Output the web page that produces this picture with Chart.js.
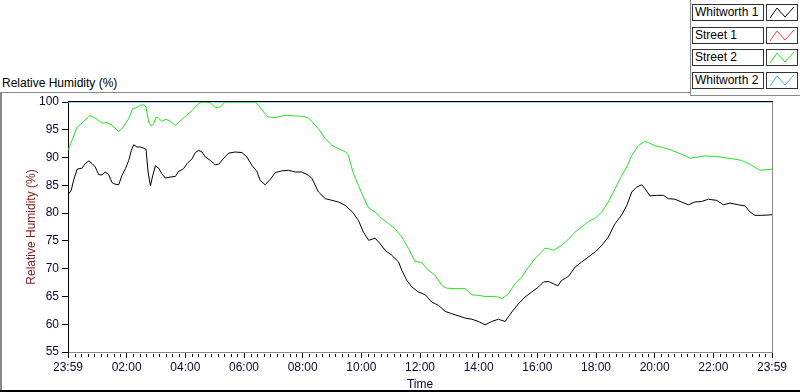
<!DOCTYPE html>
<html>
<head>
<meta charset="utf-8">
<script src="https://cdn.jsdelivr.net/npm/chart.js@4.4.0/dist/chart.umd.min.js"></script>
<style>
  body { margin: 0; background: #fff; font-family: "Liberation Sans", Arial, sans-serif; font-size: 12px; }
  #wrap { position: relative; width: 800px; height: 392px; overflow: hidden; background: #fff; }
  #chart { position: absolute; left: 0; top: 0; }
  #title { position: absolute; left: 2px; top: 76px; color: #000; }
  .line { position: absolute; }
  #legend { position: absolute; left: 692px; top: 4px; }
  .item { position: relative; height: 17px; margin-bottom: 5.7px; }
  .lab { position: absolute; left: 0; top: 0; width: 68px; height: 15px; border: 1px solid #333; line-height: 15px; padding-left: 2px; white-space: nowrap; }
  .sw { position: absolute; left: 74px; top: 0; width: 30px; height: 15px; border: 1px solid #333; background: #fff; }
</style>
</head>
<body>
<div id="wrap">
  <div id="title">Relative Humidity (%)</div>
  <div class="line" style="left:0;top:92px;width:690px;height:1px;background:#8a8a8a"></div>
  <div class="line" style="left:690px;top:0;width:1px;height:96px;background:#8a8a8a"></div>
  <div class="line" style="left:690px;top:95px;width:110px;height:1px;background:#8a8a8a"></div>
  <div class="line" style="left:0;top:92px;width:2px;height:300px;background:#8a8a8a"></div>
  <div class="line" style="left:0;top:390px;width:800px;height:2px;background:#000"></div>
  <div id="legend"></div>
  <canvas id="chart" width="800" height="392"></canvas>
</div>
<script>
// series names and colours
const seriesNames = ['Whitworth 1', 'Street 1', 'Street 2', 'Whitworth 2'];
const seriesColors = ['#000000', '#ff3c3c', '#1ee61e', '#3cb4f0'];

// x axis in hours from the start (23:59)
const xTickHours = [0, 2, 4, 6, 8, 10, 12, 14, 16, 18, 20, 22, 24];
const xTickLabels = ['23:59', '02:00', '04:00', '06:00', '08:00', '10:00', '12:00', '14:00', '16:00', '18:00', '20:00', '22:00', '23:59'];
const yTickValues = [55, 60, 65, 70, 75, 80, 85, 90, 95, 100];

// Whitworth 1 (black)
const w1Hours = [0.00, 0.11, 0.19, 0.31, 0.48, 0.59, 0.71, 0.82, 0.93, 1.05, 1.16, 1.27, 1.39, 1.50, 1.61, 1.73, 1.84, 1.96, 2.07, 2.16, 2.24, 2.35, 2.47, 2.58, 2.66, 2.73, 2.81, 2.89, 2.98, 3.09, 3.20, 3.32, 3.49, 3.66, 3.77, 3.94, 4.06, 4.23, 4.34, 4.45, 4.57, 4.68, 4.85, 5.02, 5.14, 5.31, 5.48, 5.70, 5.93, 6.10, 6.27, 6.44, 6.55, 6.72, 6.90, 7.07, 7.29, 7.52, 7.75, 7.97, 8.20,
  8.31, 8.54, 8.77, 9.00, 9.22, 9.45, 9.68, 9.90, 10.07, 10.25, 10.47, 10.64, 10.81, 11.04, 11.27, 11.38, 11.55, 11.72, 11.95, 12.18, 12.40, 12.63, 12.86, 13.08, 13.31, 13.54, 13.77, 13.99, 14.22, 14.45, 14.67, 14.90, 15.13, 15.36, 15.58, 15.81, 16.04, 16.21, 16.38,
  16.55, 16.70, 16.83, 17.06, 17.29, 17.51, 17.74, 17.97, 18.20, 18.42, 18.65, 18.88, 19.05, 19.22, 19.39, 19.56, 19.67, 19.84, 20.07, 20.30, 20.47, 20.69, 20.92, 21.15, 21.37, 21.60, 21.83, 22.11, 22.34, 22.57, 22.85, 23.08, 23.25, 23.42, 23.65, 24.00];
const w1Values = [83.3, 84.1, 85.9, 87.9, 88.1, 88.9, 89.4, 88.9, 88.3, 86.9, 86.9, 87.4, 86.9, 85.5, 85.2, 85.1, 86.8, 88.0, 89.5, 91.3, 92.3, 91.9, 91.9, 91.7, 91.5, 87.4, 84.9, 86.8, 88.5, 88.1, 87.1, 86.3, 86.5, 86.6, 87.5, 88.0, 88.9, 89.8, 90.9, 91.3, 91.0, 90.1, 89.5, 88.7, 88.8, 89.9, 90.8, 91.0, 90.9, 90.1, 88.6, 87.5, 85.9, 85.1, 86.1, 87.3, 87.6, 87.7, 87.4, 87.4, 86.8,
  86.3, 83.8, 82.6, 82.3, 82.0, 81.4, 80.3, 78.7, 76.6, 75.1, 75.5, 74.5, 73.3, 72.4, 71.2, 69.7, 67.9, 66.7, 65.8, 65.3, 64.0, 63.4, 62.3, 61.9, 61.5, 61.1, 60.9, 60.5, 59.9, 60.5, 60.9, 60.5, 62.2, 63.7, 64.9, 65.8, 66.7, 67.6, 67.7,
  67.3, 66.9, 67.9, 68.6, 70.3, 71.2, 72.1, 73.0, 74.2, 75.7, 78.1, 79.7, 81.4, 83.8, 84.7, 85.1, 84.4, 83.1, 83.2, 83.2, 82.6, 82.5, 82.0, 81.5, 82.0, 82.1, 82.5, 82.3, 81.5, 81.8, 81.5, 81.3, 80.2, 79.6, 79.6, 79.7];

// Street 1 (red) - no visible trace
const s1Hours = [];
const s1Values = [];

// Street 2 (green)
const s2Hours = [0.00, 0.14, 0.31, 0.42, 0.53, 0.73, 0.82, 0.99, 1.16, 1.33, 1.50, 1.73, 1.84, 2.07, 2.20, 2.35, 2.47, 2.58, 2.66, 2.75, 2.84, 2.92, 3.00, 3.09, 3.20, 3.34, 3.46, 3.66, 3.77, 4.00, 4.23, 4.45, 4.57, 4.85, 5.02, 5.19, 5.36, 6.38, 6.50, 6.67, 6.82, 7.07, 7.41, 7.75, 8.04, 8.20,
  8.31, 8.54, 8.77, 9.00, 9.22, 9.45, 9.56, 9.73, 9.90, 10.07, 10.25, 10.47, 10.70, 10.93, 11.15, 11.38, 11.61, 11.83, 12.06, 12.29, 12.52, 12.74, 12.91, 13.20, 13.54, 13.77, 13.99, 14.22, 14.45, 14.67, 14.79, 15.02, 15.24, 15.47, 15.70, 15.92, 16.15, 16.26, 16.38,
  16.55, 16.83, 17.06, 17.29, 17.51, 17.74, 17.97, 18.20, 18.42, 18.65, 18.88, 19.05, 19.22, 19.44, 19.65, 19.79, 20.01, 20.30, 20.58, 20.92, 21.20, 21.49, 21.72, 22.06, 22.34, 22.62, 22.96, 23.31, 23.59, 24.00];
const s2Values = [91.3, 93.1, 95.5, 95.9, 96.5, 97.5, 97.4, 96.9, 96.2, 96.3, 95.8, 94.7, 95.2, 97.0, 98.8, 99.0, 99.4, 99.5, 99.1, 96.4, 95.7, 96.1, 97.3, 97.1, 96.5, 96.9, 96.6, 95.8, 96.3, 97.4, 98.5, 99.7, 100, 99.9, 99.0, 99.1, 100, 100, 99.4, 98.2, 97.3, 97.2, 97.6, 97.5, 97.4, 97.1,
  96.5, 95.2, 93.4, 92.2, 91.6, 91.1, 90.4, 87.1, 85.0, 82.9, 80.9, 80.2, 79.0, 78.1, 77.2, 75.7, 73.6, 71.3, 71.1, 69.7, 68.8, 67.0, 66.5, 66.4, 66.4, 65.3, 65.2, 65.0, 65.0, 64.9, 64.6, 65.5, 67.3, 68.5, 70.3, 71.8, 73.0, 73.7, 73.6,
  73.3, 74.2, 75.3, 76.6, 77.5, 78.5, 79.1, 80.2, 82.0, 84.4, 86.8, 88.3, 90.4, 92.1, 92.9, 92.7, 92.1, 91.8, 91.3, 90.6, 89.9, 90.1, 90.3, 90.2, 90.0, 89.8, 89.5, 88.6, 87.7, 87.9];

// Whitworth 2 (cyan) - flat at 100
const w2Hours = [0, 24];
const w2Values = [100, 100];

const hours = [w1Hours, s1Hours, s2Hours, w2Hours];
const values = [w1Values, s1Values, s2Values, w2Values];

// legend boxes
const legend = document.getElementById('legend');
seriesNames.forEach((name, i) => {
  const item = document.createElement('div');
  item.className = 'item';
  item.innerHTML = '<div class="lab">' + name + '</div>' +
    '<div class="sw"><svg width="30" height="15"><polyline points="3,13 10,3 18,12 27,2" fill="none" stroke="' + seriesColors[i] + '" stroke-width="1"/></svg></div>';
  legend.appendChild(item);
});

const tickFont = { family: '"Liberation Sans", Arial, sans-serif', size: 12 };

// plot frame (top and right edges) and minor x ticks
const framePlugin = {
  id: 'frame',
  afterDraw(chart) {
    const { ctx, chartArea: a } = chart;
    const xs = chart.scales.x;
    ctx.save();
    ctx.fillStyle = '#000';
    ctx.fillRect(a.left, a.top - 1, a.right - a.left + 1, 1);
    ctx.fillStyle = '#8a8a8a';
    ctx.fillRect(a.right, a.top, 1, a.bottom - a.top);
    ctx.fillStyle = '#000';
    for (let i = 0; i < xTickHours.length - 1; i++) {
      const step = (xTickHours[i + 1] - xTickHours[i]) / 9;
      for (let k = 1; k < 9; k++) {
        const px = Math.round(xs.getPixelForValue(xTickHours[i] + k * step));
        ctx.fillRect(px, a.bottom + 2, 1, 3);
      }
    }
    ctx.restore();
  }
};

new Chart(document.getElementById('chart'), {
  type: 'line',
  data: {
    datasets: seriesNames.map((name, i) => ({
      label: name,
      data: hours[i].map((h, j) => ({ x: h, y: values[i][j] })),
      borderColor: seriesColors[i],
      borderWidth: 1,
      pointRadius: 0,
      tension: 0,
      fill: false
    }))
  },
  options: {
    responsive: false,
    animation: false,
    layout: { padding: { top: 102, right: 28, left: 0, bottom: 0 } },
    plugins: { legend: { display: false }, tooltip: { enabled: false } },
    scales: {
      x: {
        type: 'linear', min: 0, max: 24,
        afterBuildTicks: s => { s.ticks = xTickHours.map(v => ({ value: v })); },
        afterFit: s => { s.height = 40; },
        ticks: { autoSkip: false, maxRotation: 0, color: '#0a0a30', font: tickFont, padding: 2,
          callback: (v, i) => xTickLabels[i] },
        grid: { drawOnChartArea: false, drawTicks: true, tickLength: 6, color: '#000' },
        border: { color: '#8a8a8a', width: 1 },
        title: { display: true, text: 'Time', color: '#0a0a30', font: tickFont, padding: { top: 0, bottom: 0 } }
      },
      y: {
        min: 55, max: 100,
        afterBuildTicks: s => { s.ticks = yTickValues.map(v => ({ value: v })); },
        afterFit: s => { s.width = 68; },
        ticks: { color: '#0a0a30', font: tickFont, padding: 3 },
        grid: { drawOnChartArea: false, drawTicks: true, tickLength: 6, color: '#000' },
        border: { color: '#000', width: 1 },
        title: { display: true, text: 'Relative Humidity (%)', color: '#801818', font: tickFont, padding: { top: 24, bottom: 0 } }
      }
    }
  },
  plugins: [framePlugin]
});
</script>
</body>
</html>
